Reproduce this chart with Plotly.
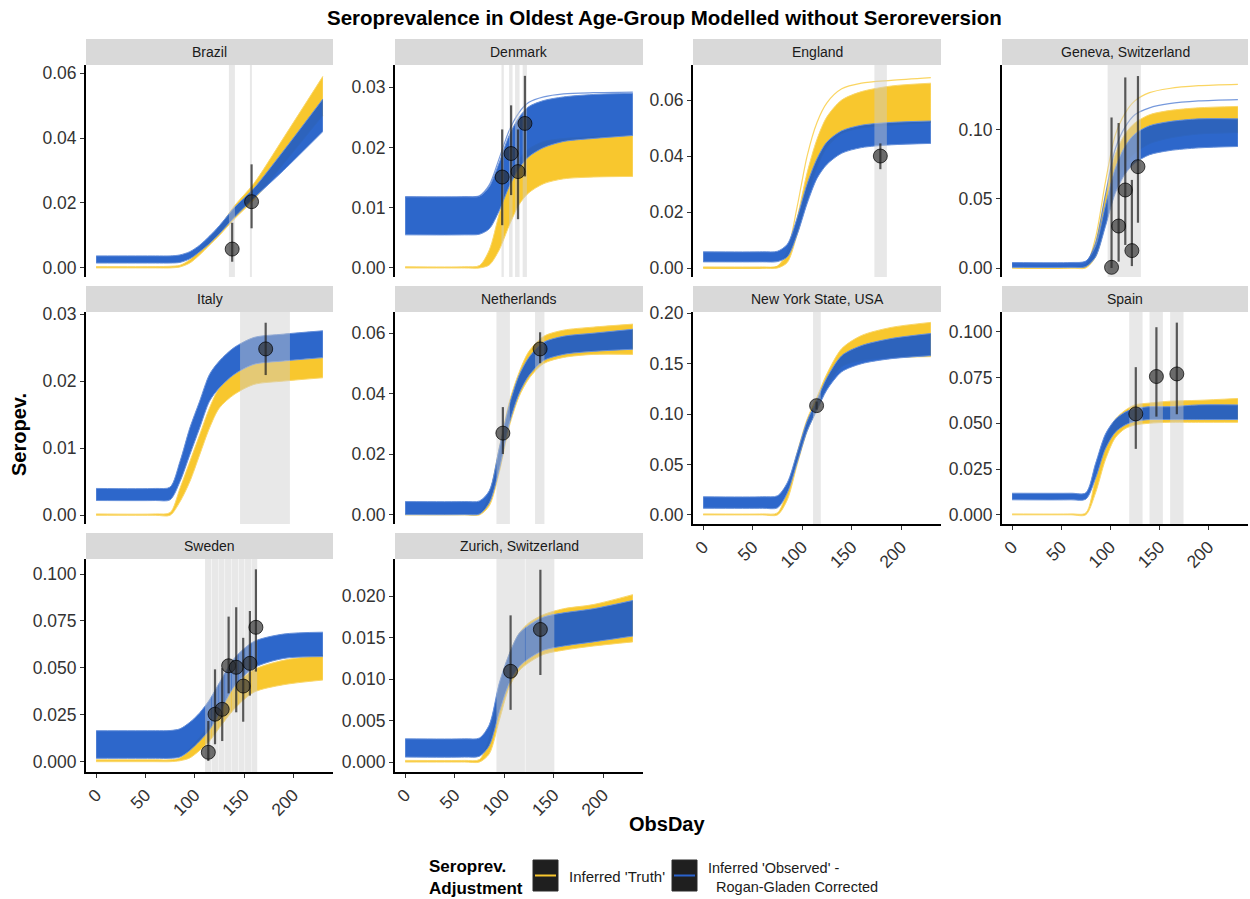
import plotly.graph_objects as go

# ---------------- data ----------------
COUNTRIES = ["Brazil", "Denmark", "England", "Geneva, Switzerland", "Italy",
             "Netherlands", "New York State, USA", "Spain", "Sweden",
             "Zurich, Switzerland"]

DAY_KNOTS = [0, 60, 75, 85, 95, 105, 115, 125, 140, 160, 190, 230]

# envelope of the posterior curves: inferred 'truth' (yellow)
TRUTH_LOWER = {
    "Brazil": [0, 0, 0, 0.0003, 0.0015, 0.004, 0.007, 0.010, 0.015, 0.021, 0.032, 0.047],
    "Denmark": [0, 0, 0, 0.0005, 0.003, 0.007, 0.0105, 0.0125, 0.014, 0.0148, 0.0151, 0.0152],
    "England": [0, 0, 0, 0.002, 0.012, 0.025, 0.036, 0.043, 0.048, 0.050, 0.051, 0.052],
    "Geneva, Switzerland": [0, 0, 0, 0.008, 0.032, 0.060, 0.075, 0.083, 0.090, 0.094, 0.097, 0.098],
    "Italy": [0, 0, 0, 0.002, 0.005, 0.009, 0.013, 0.016, 0.018, 0.0195, 0.020, 0.0205],
    "Netherlands": [0, 0, 0, 0.003, 0.014, 0.029, 0.039, 0.045, 0.050, 0.052, 0.053, 0.053],
    "New York State, USA": [0, 0, 0, 0.015, 0.050, 0.083, 0.105, 0.127, 0.147, 0.153, 0.156, 0.157],
    "Spain": [0, 0, 0, 0.012, 0.030, 0.042, 0.047, 0.049, 0.050, 0.0505, 0.0505, 0.0505],
    "Sweden": [0, 0, 0, 0.0005, 0.002, 0.006, 0.011, 0.018, 0.028, 0.037, 0.041, 0.0435],
    "Zurich, Switzerland": [0, 0, 0, 0.001, 0.005, 0.009, 0.011, 0.012, 0.013, 0.0135, 0.014, 0.0145],
}
TRUTH_UPPER = {
    "Brazil": [0.0004, 0.0004, 0.0005, 0.0008, 0.0025, 0.0055, 0.009, 0.0125, 0.019, 0.026, 0.040, 0.059],
    "Denmark": [0.0002, 0.0002, 0.0004, 0.003, 0.009, 0.0145, 0.018, 0.0198, 0.021, 0.0215, 0.0218, 0.022],
    "England": [0.0004, 0.0004, 0.0006, 0.005, 0.018, 0.034, 0.046, 0.054, 0.060, 0.063, 0.065, 0.066],
    "Geneva, Switzerland": [0.0005, 0.0005, 0.002, 0.018, 0.052, 0.082, 0.097, 0.105, 0.111, 0.114, 0.116, 0.117],
    "Italy": [0.0002, 0.0002, 0.0004, 0.004, 0.008, 0.012, 0.016, 0.019, 0.021, 0.0225, 0.023, 0.0235],
    "Netherlands": [0.0003, 0.0003, 0.0005, 0.007, 0.022, 0.037, 0.047, 0.054, 0.059, 0.061, 0.062, 0.063],
    "New York State, USA": [0.001, 0.001, 0.002, 0.025, 0.062, 0.095, 0.117, 0.140, 0.165, 0.178, 0.186, 0.191],
    "Spain": [0.0005, 0.0005, 0.001, 0.020, 0.040, 0.052, 0.057, 0.060, 0.061, 0.062, 0.0625, 0.0635],
    "Sweden": [0.001, 0.001, 0.001, 0.002, 0.007, 0.013, 0.020, 0.028, 0.040, 0.049, 0.054, 0.0568],
    "Zurich, Switzerland": [0.0002, 0.0002, 0.0003, 0.003, 0.009, 0.013, 0.0155, 0.0168, 0.0178, 0.0185, 0.019, 0.0202],
}
# envelope of the posterior curves: inferred 'observed', Rogan-Gladen corrected (blue)
OBSERVED_LOWER = {
    "Brazil": [0.0015, 0.0015, 0.0015, 0.0017, 0.0028, 0.005, 0.0075, 0.0105, 0.0155, 0.0215, 0.030, 0.042],
    "Denmark": [0.0055, 0.0055, 0.0056, 0.0065, 0.0095, 0.0135, 0.0165, 0.0185, 0.020, 0.021, 0.0215, 0.022],
    "England": [0.0022, 0.0022, 0.0023, 0.004, 0.012, 0.023, 0.032, 0.037, 0.041, 0.043, 0.044, 0.0445],
    "Geneva, Switzerland": [0.0005, 0.0005, 0.001, 0.008, 0.030, 0.054, 0.068, 0.076, 0.082, 0.085, 0.087, 0.088],
    "Italy": [0.0022, 0.0022, 0.0023, 0.005, 0.009, 0.013, 0.017, 0.019, 0.021, 0.0225, 0.023, 0.0235],
    "Netherlands": [0.0001, 0.0001, 0.0003, 0.004, 0.015, 0.030, 0.040, 0.046, 0.051, 0.053, 0.054, 0.0547],
    "New York State, USA": [0.0066, 0.0066, 0.007, 0.022, 0.052, 0.083, 0.104, 0.124, 0.142, 0.150, 0.155, 0.158],
    "Spain": [0.0082, 0.0082, 0.0085, 0.020, 0.036, 0.045, 0.049, 0.051, 0.052, 0.052, 0.052, 0.052],
    "Sweden": [0.0018, 0.0018, 0.0018, 0.0025, 0.006, 0.011, 0.017, 0.026, 0.040, 0.050, 0.055, 0.056],
    "Zurich, Switzerland": [0.0006, 0.0006, 0.0007, 0.002, 0.006, 0.0095, 0.0115, 0.0125, 0.0135, 0.014, 0.0145, 0.0152],
}
OBSERVED_UPPER = {
    "Brazil": [0.0037, 0.0037, 0.0037, 0.0040, 0.0050, 0.0070, 0.0098, 0.013, 0.0185, 0.0245, 0.036, 0.052],
    "Denmark": [0.0118, 0.0118, 0.0119, 0.0135, 0.0175, 0.022, 0.025, 0.0268, 0.0278, 0.0284, 0.0288, 0.029],
    "England": [0.0058, 0.0058, 0.006, 0.0085, 0.018, 0.030, 0.039, 0.045, 0.049, 0.051, 0.052, 0.0525],
    "Geneva, Switzerland": [0.004, 0.004, 0.005, 0.016, 0.045, 0.072, 0.088, 0.097, 0.103, 0.106, 0.108, 0.108],
    "Italy": [0.004, 0.004, 0.0042, 0.008, 0.013, 0.017, 0.021, 0.023, 0.025, 0.0265, 0.027, 0.0275],
    "Netherlands": [0.0044, 0.0044, 0.0046, 0.008, 0.022, 0.036, 0.046, 0.052, 0.057, 0.059, 0.060, 0.0613],
    "New York State, USA": [0.018, 0.018, 0.019, 0.032, 0.062, 0.093, 0.114, 0.136, 0.158, 0.168, 0.175, 0.180],
    "Spain": [0.0118, 0.0118, 0.012, 0.028, 0.044, 0.052, 0.056, 0.058, 0.059, 0.059, 0.060, 0.060],
    "Sweden": [0.0165, 0.0165, 0.0166, 0.0175, 0.021, 0.026, 0.033, 0.042, 0.055, 0.064, 0.068, 0.069],
    "Zurich, Switzerland": [0.0028, 0.0028, 0.0029, 0.0045, 0.0095, 0.013, 0.0155, 0.0165, 0.0175, 0.018, 0.0185, 0.0195],
}

# a few outlying posterior draws visible above/below the dense bands
OUTLIER_TRUTH = {
    "England": [0, 0, 0.0006, 0.006, 0.022, 0.040, 0.052, 0.059, 0.064, 0.066, 0.067, 0.068],
    "Geneva, Switzerland": [0, 0, 0.002, 0.022, 0.062, 0.096, 0.112, 0.121, 0.127, 0.130, 0.132, 0.133],
}
OUTLIER_OBSERVED = {
    "Geneva, Switzerland": [0.003, 0.003, 0.004, 0.018, 0.053, 0.086, 0.102, 0.111, 0.116, 0.119, 0.121, 0.122],
    "Denmark": [0.0118, 0.0118, 0.012, 0.0138, 0.0182, 0.0228, 0.0258, 0.0275, 0.0284, 0.0289, 0.0291, 0.0292],
}

# observed seroprevalence estimates (points with intervals)
POINT_DAY = {
    "Brazil": [138, 157.7],
    "Denmark": [98, 107, 114, 121],
    "England": [179],
    "Geneva, Switzerland": [101.3, 108.5, 115.3, 122, 128.2],
    "Italy": [172],
    "Netherlands": [98.7, 136.3],
    "New York State, USA": [114.6],
    "Spain": [126, 147, 167.8],
    "Sweden": [113.8, 120.6, 127.9, 134.4, 142.1, 149.2, 156, 162.1],
    "Zurich, Switzerland": [106.5, 136.6],
}
POINT_VAL = {
    "Brazil": [0.0058, 0.0204],
    "Denmark": [0.0151, 0.019, 0.016, 0.024],
    "England": [0.040],
    "Geneva, Switzerland": [0.0005, 0.0304, 0.0565, 0.0126, 0.0734],
    "Italy": [0.0248],
    "Netherlands": [0.027, 0.0548],
    "New York State, USA": [0.1084],
    "Spain": [0.0551, 0.0755, 0.0769],
    "Sweden": [0.005, 0.0253, 0.0279, 0.0511, 0.0503, 0.0403, 0.0524, 0.0716],
    "Zurich, Switzerland": [0.01095, 0.016],
}
POINT_LOW = {
    "Brazil": [0.0019, 0.0122],
    "Denmark": [0.0071, 0.0121, 0.0081, 0.0152],
    "England": [0.0353],
    "Geneva, Switzerland": [0.0, 0.0046, 0.0167, 0.0014, 0.0328],
    "Italy": [0.0209],
    "Netherlands": [0.0201, 0.0501],
    "New York State, USA": [0.1045],
    "Spain": [0.036, 0.0536, 0.0549],
    "Sweden": [0.0004, 0.0093, 0.011, 0.0364, 0.0263, 0.0213, 0.0352, 0.048],
    "Zurich, Switzerland": [0.0063, 0.0105],
}
POINT_HIGH = {
    "Brazil": [0.0139, 0.0319],
    "Denmark": [0.023, 0.027, 0.023, 0.0319],
    "England": [0.0445],
    "Geneva, Switzerland": [0.109, 0.105, 0.138, 0.0638, 0.139],
    "Italy": [0.0287],
    "Netherlands": [0.0356, 0.0603],
    "New York State, USA": [0.1125],
    "Spain": [0.0806, 0.1024, 0.1049],
    "Sweden": [0.0217, 0.0492, 0.0498, 0.0773, 0.0823, 0.066, 0.0803, 0.1025],
    "Zurich, Switzerland": [0.0177, 0.0232],
}

# survey sampling windows (ObsDay)
WINDOW_START = {
    "Brazil": [134.7, 156],
    "Denmark": [97.3, 105, 111, 118.7],
    "England": [173],
    "Geneva, Switzerland": [97.3],
    "Italy": [146],
    "Netherlands": [92.2, 131.2],
    "New York State, USA": [111],
    "Spain": [119.3, 140, 161],
    "Sweden": [110.5, 117.3, 124.0, 130.8, 137.6, 144.4, 151.1, 157.9],
    "Zurich, Switzerland": [92.2, 121.5],
}
WINDOW_END = {
    "Brazil": [140.8, 158],
    "Denmark": [99.7, 108.5, 115.6, 123],
    "England": [185.6],
    "Geneva, Switzerland": [131.2],
    "Italy": [196.6],
    "Netherlands": [105.8, 140.7],
    "New York State, USA": [118.8],
    "Spain": [132.9, 153.6, 174.6],
    "Sweden": [116.8, 123.6, 130.3, 137.1, 143.9, 150.6, 157.4, 163.4],
    "Zurich, Switzerland": [121.0, 150.7],
}

X_TICKS = [0, 50, 100, 150, 200]

# ---------------- layout configuration ----------------
W, H = 1250, 899
COL_PX = [(86, 333), (395, 643), (693, 941), (1002, 1248)]
ROW_PX = [(65, 277), (312, 524), (559, 772)]
STRIP_H = 26
X_RANGE = [-10.3, 240.3]
Y_RANGE = {
    "Brazil": [-0.0028, 0.0625], "Denmark": [-0.0015, 0.0337],
    "England": [-0.0032, 0.0725], "Geneva, Switzerland": [-0.0065, 0.147],
    "Italy": [-0.0013, 0.0303], "Netherlands": [-0.003, 0.067],
    "New York State, USA": [-0.009, 0.2013], "Spain": [-0.005, 0.1107],
    "Sweden": [-0.0055, 0.108], "Zurich, Switzerland": [-0.0012, 0.0245],
}
Y_DTICK = {
    "Brazil": (0.02, ".2f"), "Denmark": (0.01, ".2f"), "England": (0.02, ".2f"),
    "Geneva, Switzerland": (0.05, ".2f"), "Italy": (0.01, ".2f"),
    "Netherlands": (0.02, ".2f"), "New York State, USA": (0.05, ".2f"),
    "Spain": (0.025, ".3f"), "Sweden": (0.025, ".3f"),
    "Zurich, Switzerland": (0.005, ".3f"),
}
WITH_X_AXIS = {"New York State, USA", "Spain", "Sweden", "Zurich, Switzerland"}

FONT = "Liberation Sans, Arial, Helvetica, sans-serif"
YELLOW = "#F8C72E"
YELLOW_EDGE = "#FAD76A"
BLUE = "rgba(29,91,199,0.93)"
BLUE_EDGE = "#6690DA"
TICK_FONT = dict(size=17.5, color="#333333")

fig = go.Figure()
layout = dict(width=W, height=H, margin=dict(l=0, r=0, t=0, b=0, autoexpand=False),
              plot_bgcolor="white", paper_bgcolor="white", showlegend=False,
              font=dict(family=FONT, color="#333333"))
shapes, annotations = [], []
SPL = dict(shape="spline", smoothing=0.8)

for i, c in enumerate(COUNTRIES):
    k = i + 1
    col, row = i % 4, i // 4
    x0, x1 = COL_PX[col]
    y0, y1 = ROW_PX[row]
    xa, ya = f"x{k}", f"y{k}"
    xkey = "xaxis" if k == 1 else f"xaxis{k}"
    ykey = "yaxis" if k == 1 else f"yaxis{k}"
    has_x = c in WITH_X_AXIS
    layout[xkey] = dict(domain=[x0 / W, x1 / W], anchor=ya, range=X_RANGE,
                        automargin=False, showgrid=False, zeroline=False,
                        showline=has_x, linecolor="black", linewidth=2,
                        ticks="outside" if has_x else "", ticklen=4, tickcolor="#333",
                        showticklabels=has_x, tickvals=X_TICKS, tickangle=-45,
                        tickfont=TICK_FONT)
    dt, fmt = Y_DTICK[c]
    layout[ykey] = dict(domain=[1 - y1 / H, 1 - y0 / H], anchor=xa, range=Y_RANGE[c],
                        automargin=False, showgrid=False, zeroline=False, showline=True,
                        linecolor="black", linewidth=2, ticks="outside", ticklen=4,
                        tickcolor="#333", tick0=0, dtick=dt, tickformat=fmt,
                        tickfont=TICK_FONT)
    # strip
    shapes.append(dict(type="rect", xref="paper", yref="paper",
                       x0=x0 / W, x1=x1 / W, y0=1 - y0 / H, y1=1 - (y0 - STRIP_H) / H,
                       fillcolor="#D9D9D9", line=dict(width=0), layer="below"))
    annotations.append(dict(xref="paper", yref="paper", x=(x0 + x1) / 2 / W,
                            y=1 - (y0 - STRIP_H / 2) / H, text=c, showarrow=False,
                            font=dict(size=14, color="#1a1a1a"),
                            xanchor="center", yanchor="middle"))

    # truth band (yellow)
    fig.add_trace(go.Scatter(x=DAY_KNOTS, y=TRUTH_LOWER[c], mode="lines",
                             line=dict(color=YELLOW_EDGE, width=1, **SPL),
                             xaxis=xa, yaxis=ya, hoverinfo="skip"))
    fig.add_trace(go.Scatter(x=DAY_KNOTS, y=TRUTH_UPPER[c], mode="lines", fill="tonexty",
                             fillcolor=YELLOW, line=dict(color=YELLOW_EDGE, width=1, **SPL),
                             xaxis=xa, yaxis=ya, hoverinfo="skip"))
    if c in OUTLIER_TRUTH:
        fig.add_trace(go.Scatter(x=DAY_KNOTS, y=OUTLIER_TRUTH[c], mode="lines",
                                 line=dict(color="rgba(248,199,46,0.75)", width=1.2, **SPL),
                                 xaxis=xa, yaxis=ya, hoverinfo="skip"))
    # observed band (blue)
    fig.add_trace(go.Scatter(x=DAY_KNOTS, y=OBSERVED_LOWER[c], mode="lines",
                             line=dict(color=BLUE_EDGE, width=1, **SPL),
                             xaxis=xa, yaxis=ya, hoverinfo="skip"))
    fig.add_trace(go.Scatter(x=DAY_KNOTS, y=OBSERVED_UPPER[c], mode="lines", fill="tonexty",
                             fillcolor=BLUE, line=dict(color=BLUE_EDGE, width=1, **SPL),
                             xaxis=xa, yaxis=ya, hoverinfo="skip"))
    if c in OUTLIER_OBSERVED:
        fig.add_trace(go.Scatter(x=DAY_KNOTS, y=OUTLIER_OBSERVED[c], mode="lines",
                                 line=dict(color="rgba(60,110,205,0.7)", width=1.2, **SPL),
                                 xaxis=xa, yaxis=ya, hoverinfo="skip"))
    # sampling windows
    lo, hi = Y_RANGE[c]
    for s, e in zip(WINDOW_START[c], WINDOW_END[c]):
        fig.add_trace(go.Scatter(x=[s, e, e, s, s], y=[lo, lo, hi, hi, lo], mode="lines",
                                 line=dict(width=0), fill="toself",
                                 fillcolor="rgba(205,205,205,0.45)",
                                 xaxis=xa, yaxis=ya, hoverinfo="skip"))
    # points
    vals = POINT_VAL[c]
    fig.add_trace(go.Scatter(
        x=POINT_DAY[c], y=vals, mode="markers",
        marker=dict(size=14, color="rgba(40,40,40,0.65)",
                    line=dict(color="rgba(0,0,0,0.7)", width=1)),
        error_y=dict(type="data", symmetric=False,
                     array=[h - v for h, v in zip(POINT_HIGH[c], vals)],
                     arrayminus=[v - l for l, v in zip(POINT_LOW[c], vals)],
                     color="rgba(30,30,30,0.72)", thickness=2.2, width=0),
        xaxis=xa, yaxis=ya, hoverinfo="skip"))

# titles
annotations.append(dict(xref="paper", yref="paper", x=664 / W, y=1 - 18 / H,
                        text="<b>Seroprevalence in Oldest Age-Group Modelled without Seroreversion</b>",
                        showarrow=False, font=dict(size=20.5, color="black"),
                        xanchor="center", yanchor="middle"))
annotations.append(dict(xref="paper", yref="paper", x=667 / W, y=1 - 824 / H,
                        text="<b>ObsDay</b>", showarrow=False,
                        font=dict(size=20, color="black"), xanchor="center", yanchor="middle"))
annotations.append(dict(xref="paper", yref="paper", x=19 / W, y=1 - 435 / H,
                        text="<b>Seropev.</b>", showarrow=False, textangle=-90,
                        font=dict(size=20, color="black"), xanchor="center", yanchor="middle"))

# legend (drawn manually)
annotations.append(dict(xref="paper", yref="paper", x=427 / W, y=1 - 877 / H,
                        text="<b>Seroprev.<br>Adjustment</b>", showarrow=False, align="left",
                        font=dict(size=17, color="black"), xanchor="left", yanchor="middle"))
for kx0, kx1, col_line in [(533, 558, "#F8C72E"), (672, 697, "#2A62CC")]:
    shapes.append(dict(type="rect", xref="paper", yref="paper",
                       x0=kx0 / W, x1=kx1 / W, y0=1 - 891 / H, y1=1 - 860 / H,
                       fillcolor="#1f1f1f", line=dict(color="#2b2b2b", width=1)))
    shapes.append(dict(type="line", xref="paper", yref="paper",
                       x0=(kx0 + 2) / W, x1=(kx1 - 2) / W, y0=1 - 875.5 / H, y1=1 - 875.5 / H,
                       line=dict(color=col_line, width=2)))
annotations.append(dict(xref="paper", yref="paper", x=567 / W, y=1 - 876 / H,
                        text="Inferred 'Truth'", showarrow=False,
                        font=dict(size=15, color="#1a1a1a"), xanchor="left", yanchor="middle"))
annotations.append(dict(xref="paper", yref="paper", x=706 / W, y=1 - 877 / H,
                        text="Inferred 'Observed' -<br>  Rogan-Gladen Corrected", showarrow=False,
                        align="left", font=dict(size=14.5, color="#1a1a1a"),
                        xanchor="left", yanchor="middle"))

layout["shapes"] = shapes
layout["annotations"] = annotations
fig.update_layout(**layout)
fig.write_html("out.html")
